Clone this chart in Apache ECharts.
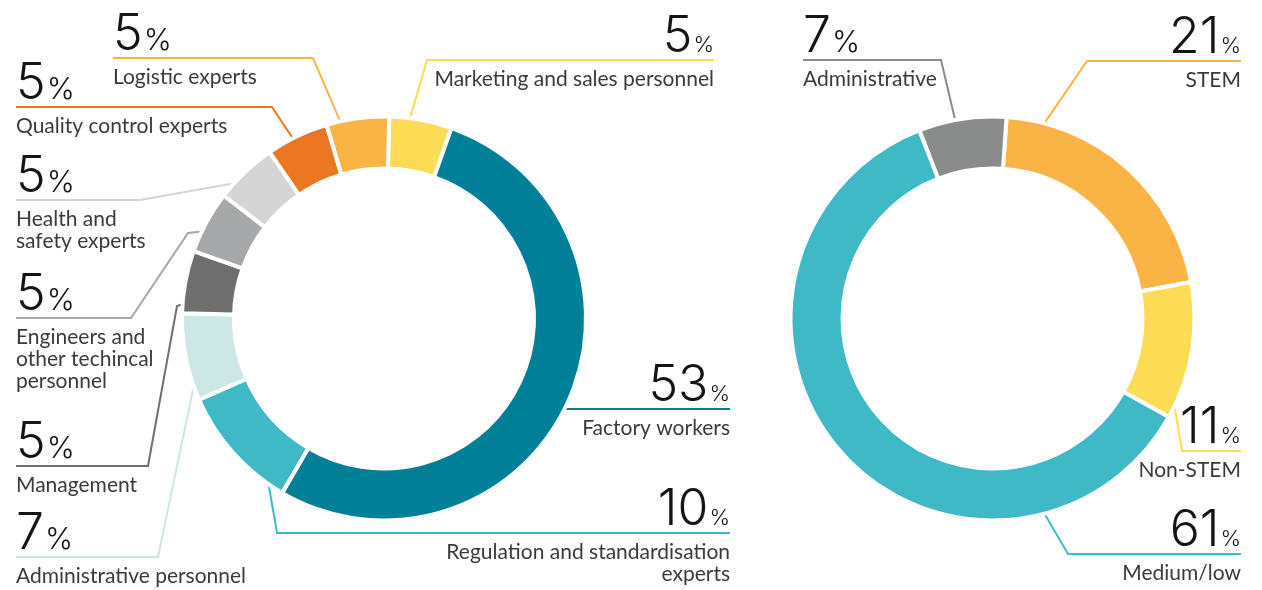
<!DOCTYPE html>
<html>
<head>
<meta charset="utf-8">
<script src="https://cdn.jsdelivr.net/npm/echarts@6/dist/echarts.min.js"></script>
<style>
html, body { margin: 0; padding: 0; background: #fff; }
#chart { width: 1262px; height: 590px; }
</style>
</head>
<body>
<div id="chart"></div>
<script>
// left donut, clockwise from the top
const leftNames = [
  'Marketing and sales personnel',
  'Factory workers',
  'Regulation and standardisation\nexperts',
  'Administrative personnel',
  'Management',
  'Engineers and\nother techincal\npersonnel',
  'Health and\nsafety experts',
  'Quality control experts',
  'Logistic experts'
]
const leftValues = [5, 53, 10, 7, 5, 5, 5, 5, 5]

// right donut, clockwise from the top
const rightNames = ['STEM', 'Non-STEM', 'Medium/low', 'Administrative']
const rightValues = [21, 11, 61, 7]

const leftColors = ['#fddc55', '#007f99', '#40b9c6', '#cde6e6', '#6f6f6f', '#a7a8a9', '#d5d5d5', '#eb7722', '#fab446']
const rightColors = ['#fab446', '#fddc55', '#40b9c6', '#8a8b8b']

const TEXT_FONT = 'Lato, "Open Sans", sans-serif'
const NUM_FONT = 'Inter, Roboto, sans-serif'

// label placement: where the leader leaves the slice (fraction of the slice),
// bend points, end of the underline and which way the text is aligned
const leftLayout = [
  { frac: 0.32, bends: [[427, 60]], endX: 714, side: 'right' },
  { frac: 0.51, bends: [[562, 409]], endX: 730, side: 'right' },
  { frac: 0.15, bends: [[277, 533]], endX: 730, side: 'right' },
  { frac: 0.22, bends: [[158, 557]], endX: 16, side: 'left' },
  { frac: 0.16, bends: [[177, 306], [148, 466]], endX: 16, side: 'left' },
  { frac: 0.36, bends: [[188, 233], [131, 318]], endX: 16, side: 'left' },
  { frac: 0.31, bends: [[140, 200]], endX: 16, side: 'left' },
  { frac: 0.43, bends: [[272, 107]], endX: 16, side: 'left' },
  { frac: 0.23, bends: [[313, 58]], endX: 113, side: 'left' }
]
const rightLayout = [
  { frac: 0.14, bends: [[1087, 61]], endX: 1241, side: 'right' },
  { frac: 0.88, bends: [[1182, 451]], endX: 1241, side: 'right' },
  { frac: 0.21, bends: [[1068, 554]], endX: 1241, side: 'right' },
  { frac: 0.42, bends: [[941, 60]], endX: 803, side: 'left' }
]

const pies = [
  { names: leftNames, values: leftValues, colors: leftColors, layout: leftLayout, center: [384, 318.5], startAngle: 88.5 },
  { names: rightNames, values: rightValues, colors: rightColors, layout: rightLayout, center: [992.5, 318.5], startAngle: 86 }
]

function anchorPoint(pie, i, frac) {
  const total = pie.values.reduce((a, b) => a + b, 0)
  let a = pie.startAngle
  for (let j = 0; j < i; j++) a -= pie.values[j] / total * 360
  a -= frac * pie.values[i] / total * 360
  const rad = a * Math.PI / 180
  const r = 199
  return [pie.center[0] + r * Math.cos(rad), pie.center[1] - r * Math.sin(rad)]
}

const rich = {
  nL: { fontFamily: NUM_FONT, fontWeight: 300, fontSize: 50, lineHeight: 68, color: '#141414', align: 'left', padding: [5, 0, 0, 0] },
  pL: { fontFamily: NUM_FONT, fontWeight: 300, fontSize: 30, lineHeight: 68, color: '#141414', align: 'left', padding: [18, 0, 0, 1] },
  tL: { fontFamily: TEXT_FONT, fontSize: 21, lineHeight: 22, color: '#3a3a3a', align: 'left' },
  nR: { fontFamily: NUM_FONT, fontWeight: 300, fontSize: 50, lineHeight: 68, color: '#141414', align: 'right', padding: [5, 0, 0, 0] },
  pR: { fontFamily: NUM_FONT, fontWeight: 300, fontSize: 22, lineHeight: 68, color: '#141414', align: 'right', padding: [23, 0, 0, 1] },
  tR: { fontFamily: TEXT_FONT, fontSize: 21, lineHeight: 22, color: '#3a3a3a', align: 'right' }
}

const series = pies.map(pie => ({
  type: 'pie',
  center: pie.center,
  radius: [150, 202],
  startAngle: pie.startAngle,
  clockwise: true,
  avoidLabelOverlap: false,
  minShowLabelAngle: 0,
  silent: true,
  animation: false,
  itemStyle: { borderColor: '#fff', borderWidth: 4 },
  emphasis: { disabled: true },
  label: {
    show: true,
    position: 'outside',
    rich: rich,
    formatter: p => {
      const s = pie.layout[p.dataIndex].side === 'left' ? 'L' : 'R'
      const lines = p.name.split('\n').map(t => '{t' + s + '|' + t + '}')
      return '{n' + s + '|' + p.value + '}{p' + s + '|%}\n' + lines.join('\n')
    }
  },
  labelLine: { show: true, smooth: false, lineStyle: { width: 2 } },
  labelLayout: params => {
    const cfg = pie.layout[params.dataIndex]
    const start = anchorPoint(pie, params.dataIndex, cfg.frac)
    const last = cfg.bends[cfg.bends.length - 1]
    return {
      x: cfg.endX,
      y: last[1] - 60,
      align: cfg.side,
      verticalAlign: 'top',
      labelLinePoints: [start].concat(cfg.bends, [[cfg.endX, last[1]]])
    }
  },
  data: pie.names.map((n, i) => ({
    name: n,
    value: pie.values[i],
    itemStyle: { color: pie.colors[i] }
  }))
}))

const chart = echarts.init(document.getElementById('chart'), null, { renderer: 'canvas' })
chart.setOption({
  animation: false,
  series: series
})
</script>
</body>
</html>
